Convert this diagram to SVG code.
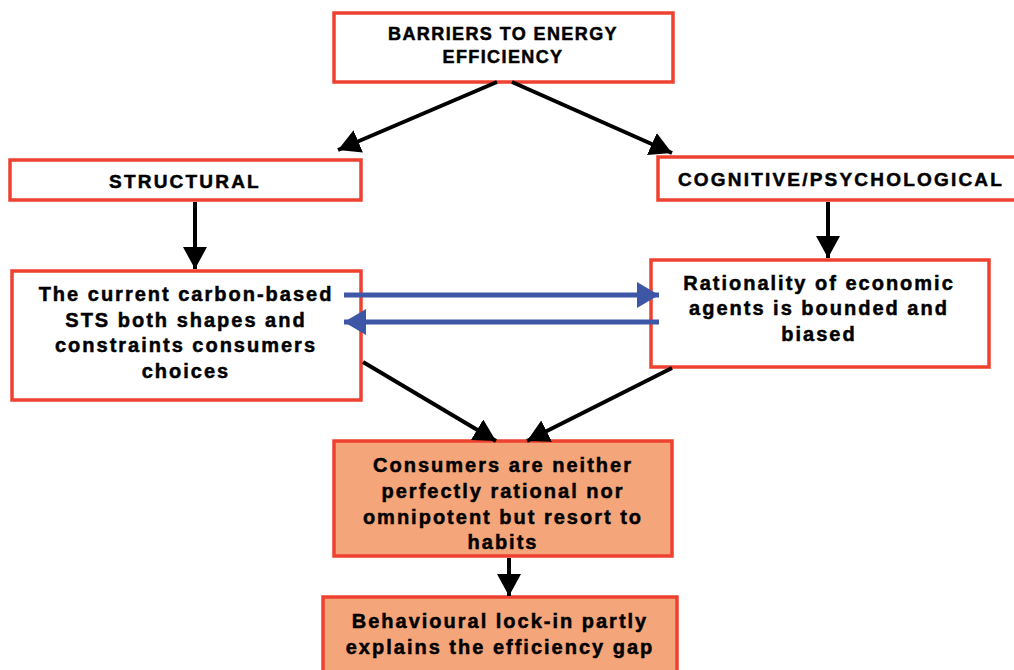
<svg xmlns="http://www.w3.org/2000/svg" width="1014" height="670" viewBox="0 0 1014 670">
<defs>
<style>
.box{fill:#fff;stroke:#EE4130;stroke-width:3.5}
.hl{fill:#F5A57A;stroke:#EE4130;stroke-width:3.5}
.t{font-family:"Liberation Sans",Arial,sans-serif;font-weight:bold;font-size:20px;letter-spacing:2px;fill:#000;stroke:#000;stroke-width:0.5;text-anchor:middle}
.h{font-size:18px;letter-spacing:1.4px}
.k{font-size:19px;letter-spacing:2.2px}
.c{stroke:#000;stroke-width:4;fill:none}
.b{stroke:#3E56A6;stroke-width:5;fill:none}
</style>
<marker id="ak" markerUnits="userSpaceOnUse" markerWidth="26" markerHeight="26" refX="22" refY="12" orient="auto">
<path d="M0,0 L22,12 L0,24 Z" fill="#000"/>
</marker>
<marker id="ab" markerUnits="userSpaceOnUse" markerWidth="26" markerHeight="28" refX="22" refY="13" orient="auto">
<path d="M0,0 L22,13 L0,26 Z" fill="#3E56A6"/>
</marker>
</defs>
<rect width="1014" height="670" fill="#fff"/>
<g id="barriers">
<rect class="box" x="334" y="13" width="339" height="69"/>
<text class="t h" x="503" y="40">BARRIERS TO ENERGY</text>
<text class="t h" x="503" y="63">EFFICIENCY</text>
</g>
<g id="structural">
<rect class="box" x="10" y="160" width="351" height="40"/>
<text class="t k" x="185" y="188">STRUCTURAL</text>
</g>
<g id="cognitive">
<rect class="box" x="658" y="157" width="370" height="43"/>
<text class="t k" x="841" y="186">COGNITIVE/PSYCHOLOGICAL</text>
</g>
<g id="sts">
<rect class="box" x="12" y="271" width="349" height="129"/>
<text class="t" x="186" y="301">The current carbon-based</text>
<text class="t" x="186" y="327">STS both shapes and</text>
<text class="t" x="186" y="352">constraints consumers</text>
<text class="t" x="186" y="378">choices</text>
</g>
<g id="rationality">
<rect class="box" x="651" y="260" width="338" height="107"/>
<text class="t" x="819" y="290">Rationality of economic</text>
<text class="t" x="819" y="315">agents is bounded and</text>
<text class="t" x="819" y="341">biased</text>
</g>
<g id="consumers">
<rect class="hl" x="334" y="441" width="338" height="115"/>
<text class="t" x="503" y="472">Consumers are neither</text>
<text class="t" x="503" y="498">perfectly rational nor</text>
<text class="t" x="503" y="524">omnipotent but resort to</text>
<text class="t" x="503" y="549">habits</text>
</g>
<g id="lockin">
<rect class="hl" x="323" y="597" width="354" height="80"/>
<text class="t" x="500" y="628">Behavioural lock-in partly</text>
<text class="t" x="500" y="654">explains the efficiency gap</text>
</g>
<g id="connectors">
<line class="c" x1="497" y1="82" x2="338" y2="150" marker-end="url(#ak)"/>
<line class="c" x1="512" y1="82" x2="672" y2="153" marker-end="url(#ak)"/>
<line class="c" x1="195" y1="202" x2="195" y2="269" marker-end="url(#ak)"/>
<line class="c" x1="828" y1="202" x2="828" y2="258" marker-end="url(#ak)"/>
<line class="b" x1="344" y1="295" x2="659" y2="295" marker-end="url(#ab)"/>
<line class="b" x1="659" y1="322" x2="344" y2="322" marker-end="url(#ab)"/>
<line class="c" x1="363" y1="362" x2="496" y2="441" marker-end="url(#ak)"/>
<line class="c" x1="672" y1="368" x2="527" y2="441" marker-end="url(#ak)"/>
<line class="c" x1="509" y1="558" x2="509" y2="596" marker-end="url(#ak)"/>
</g>
</svg>
